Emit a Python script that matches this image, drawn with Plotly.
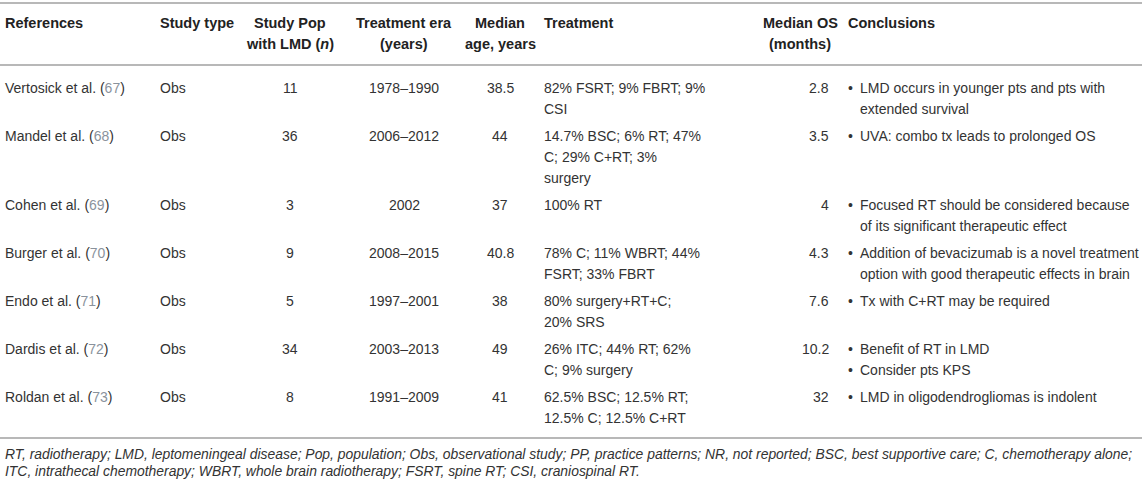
"""Table: leptomeningeal disease studies, drawn as a Plotly figure."""

import plotly.graph_objects as go

W, H = 1142, 486

headers = [
    ["References"],
    ["Study type"],
    ["Study Pop", "with LMD (<i>n</i>)"],
    ["Treatment era", "(years)"],
    ["Median", "age, years"],
    ["Treatment"],
    ["Median OS", "(months)"],
    ["Conclusions"],
]

references = ["Vertosick et al.", "Mandel et al.", "Cohen et al.", "Burger et al.",
              "Endo et al.", "Dardis et al.", "Roldan et al."]
ref_nums = [67, 68, 69, 70, 71, 72, 73]
study_type = ["Obs", "Obs", "Obs", "Obs", "Obs", "Obs", "Obs"]
study_pop = [11, 36, 3, 9, 5, 34, 8]
treatment_era = ["1978–1990", "2006–2012", "2002", "2008–2015", "1997–2001",
                 "2003–2013", "1991–2009"]
median_age = ["38.5", "44", "37", "40.8", "38", "49", "41"]
treatment = [
    ["82% FSRT; 9% FBRT; 9%", "CSI"],
    ["14.7% BSC; 6% RT; 47%", "C; 29% C+RT; 3%", "surgery"],
    ["100% RT"],
    ["78% C; 11% WBRT; 44%", "FSRT; 33% FBRT"],
    ["80% surgery+RT+C;", "20% SRS"],
    ["26% ITC; 44% RT; 62%", "C; 9% surgery"],
    ["62.5% BSC; 12.5% RT;", "12.5% C; 12.5% C+RT"],
]
median_os = ["2.8", "3.5", "4", "4.3", "7.6", "10.2", "32"]
conclusions = [
    [["LMD occurs in younger pts and pts with", "extended survival"]],
    [["UVA: combo tx leads to prolonged OS"]],
    [["Focused RT should be considered because", "of its significant therapeutic effect"]],
    [["Addition of bevacizumab is a novel treatment", "option with good therapeutic effects in brain"]],
    [["Tx with C+RT may be required"]],
    [["Benefit of RT in LMD"], ["Consider pts KPS"]],
    [["LMD in oligodendrogliomas is indolent"]],
]
footnote = [
    "RT, radiotherapy; LMD, leptomeningeal disease; Pop, population; Obs, observational study; "
    "PP, practice patterns; NR, not reported; BSC, best supportive care; C, chemotherapy alone;",
    "ITC, intrathecal chemotherapy; WBRT, whole brain radiotherapy; FSRT, spine RT; CSI, craniospinal RT.",
]

# layout constants (pixels)
FONT = "Liberation Sans, Arial, sans-serif"
FS = 14
HFS = 14.5
TXT = "#333333"
HEAD = "#222222"
REF_COL = "#8a929c"
RULE = "#b8b8b8"
LH = 21
PAD = 6
# (x, anchor) per column
cols = [(3, "left"), (158, "left"), (290, "center"), (404, "center"),
        (500, "center"), (542, "left"), (800, "center"), (846, "left")]
OS_RIGHT = 831
BULLET_DX = 12

annotations = []


def add_text(x, y, text, anchor="left", size=FS, color=TXT):
    annotations.append(dict(
        x=x, y=y, xref="x", yref="y", text=text, showarrow=False,
        xanchor=anchor, yanchor="middle",
        font=dict(family=FONT, size=size, color=color),
    ))


# header
for (x, anchor), lines in zip(cols, headers):
    for i, line in enumerate(lines):
        add_text(x, 23 + i * 21, f"<b>{line}</b>", anchor, size=HFS, color=HEAD)

# body rows
y = 88
for r in range(len(references)):
    add_text(cols[0][0], y,
             f"{references[r]} (<span style='color:{REF_COL}'>{ref_nums[r]}</span>)")
    add_text(cols[1][0], y, study_type[r])
    add_text(cols[2][0], y, str(study_pop[r]), "center")
    add_text(cols[3][0], y, treatment_era[r], "center")
    add_text(cols[4][0], y, median_age[r], "center")
    for i, line in enumerate(treatment[r]):
        add_text(cols[5][0], y + i * LH, line)
    add_text(OS_RIGHT, y, median_os[r], "right")
    k = 0
    for item in conclusions[r]:
        add_text(cols[7][0], y + k * LH, "•")
        for line in item:
            add_text(cols[7][0] + BULLET_DX, y + k * LH, line)
            k += 1
    n_lines = max(len(treatment[r]), k, 1)
    y += n_lines * LH + PAD

for i, line in enumerate(footnote):
    add_text(3, 454 + i * 17, f"<i>{line}</i>", size=13.9)

shapes = [
    dict(type="line", xref="x", yref="y", x0=0, x1=W, y0=yy, y1=yy,
         line=dict(color=RULE, width=2))
    for yy in (3, 65, 438)
]

fig = go.Figure()
fig.update_layout(
    width=W, height=H,
    margin=dict(l=0, r=0, t=0, b=0),
    paper_bgcolor="white", plot_bgcolor="white",
    xaxis=dict(range=[0, W], visible=False, fixedrange=True),
    yaxis=dict(range=[H, 0], visible=False, fixedrange=True),
    annotations=annotations,
    shapes=shapes,
    showlegend=False,
)
# page body has a default 8px margin; drop it so the table sits at the window edge
fig.write_html("out.html", config={"displayModeBar": False},
               post_script="document.body.style.margin = '0';")
